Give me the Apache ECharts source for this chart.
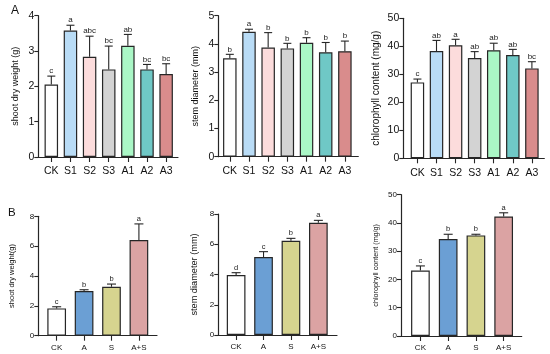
<!DOCTYPE html>
<html><head><meta charset="utf-8">
<script src="https://cdn.jsdelivr.net/npm/echarts@6/dist/echarts.min.js"></script>
<style>html,body{margin:0;padding:0;background:#fff}#c{width:550px;height:354px}</style>
</head><body><div id="c"></div>
<script>
// ---- data ----
const catsA = ['CK','S1','S2','S3','A1','A2','A3'];
const catsB = ['CK','A','S','A+S'];

const shootA      = [2.05, 3.58, 2.84, 2.48, 3.15, 2.48, 2.35];
const shootA_sd   = [0.24, 0.15, 0.58, 0.66, 0.32, 0.14, 0.29];
const shootA_sig  = ['c','a','abc','bc','ab','bc','bc'];

const stemA       = [3.49, 4.43, 3.87, 3.84, 4.04, 3.70, 3.74];
const stemA_sd    = [0.14, 0.09, 0.53, 0.18, 0.18, 0.35, 0.36];
const stemA_sig   = ['b','a','b','b','b','b','b'];

const chlA        = [27.1, 38.3, 40.4, 35.8, 38.6, 36.9, 32.1];
const chlA_sd     = [1.2, 3.8, 2.1, 2.3, 2.5, 2.0, 2.4];
const chlA_sig    = ['c','ab','a','ab','ab','ab','bc'];

const shootB      = [1.83, 2.99, 3.28, 6.41];
const shootB_sd   = [0.11, 0.09, 0.18, 1.08];
const shootB_sig  = ['c','b','b','a'];

const stemB       = [3.96, 5.15, 6.23, 7.42];
const stemB_sd    = [0.16, 0.36, 0.16, 0.16];
const stemB_sig   = ['d','c','b','a'];

const chlB        = [23.2, 34.3, 35.6, 42.3];
const chlB_sd     = [1.6, 1.7, 0.4, 1.3];
const chlB_sig    = ['c','b','b','a'];

// ---- styles ----
const colorsA = ['#ffffff','#b9dcf6','#fcdcdc','#d3d3d3','#aaf7c6','#6fc8c6','#d98c8c'];
const colorsB = ['#ffffff','#6b9fd4','#d6d48f','#dba3a3'];
const FONT = 'Liberation Sans, Arial, sans-serif';
const INK = '#262626';

const panels = [
  {cats:catsA, vals:shootA, sd:shootA_sd, sig:shootA_sig, colors:colorsA, ymax:4, step:1, name:'shoot dry weight (g)',
   left:38.3, top:15.7, width:139.7, height:141.3, xmin:-0.68, xmax:6.62, bw:13.5, fs:10.5, nfs:9, lfs:8, gap:18, cap:4, tl:5, lm:9},
  {cats:catsA, vals:stemA, sd:stemA_sd, sig:stemA_sig, colors:colorsA, ymax:5, step:1, name:'stem diameter (mm)',
   left:218.3, top:15.7, width:140, height:141, xmin:-0.6, xmax:6.7, bw:13.5, fs:10.5, nfs:9, lfs:8, gap:18, cap:4, tl:5, lm:9},
  {cats:catsA, vals:chlA, sd:chlA_sd, sig:chlA_sig, colors:colorsA, ymax:50, step:10, name:'chlorophyll content (mg/g)',
   left:403.3, top:18.3, width:141, height:140, xmin:-0.74, xmax:6.65, bw:13.5, fs:10.5, nfs:10, lfs:8, gap:22, cap:4, tl:5, lm:9},
  {cats:catsB, vals:shootB, sd:shootB_sd, sig:shootB_sig, colors:colorsB, ymax:8, step:2, name:'shoot dry weight(g)',
   left:38.3, top:216.3, width:118.7, height:119.4, xmin:-0.67, xmax:3.66, bw:18.7, fs:8, nfs:7.5, lfs:7.5, gap:22, cap:4.5, tl:5, lm:8},
  {cats:catsB, vals:stemB, sd:stemB_sd, sig:stemB_sig, colors:colorsB, ymax:8, step:2, name:'stem diameter (mm)',
   left:218.3, top:214, width:118.7, height:121, xmin:-0.65, xmax:3.68, bw:18.7, fs:8, nfs:9.2, lfs:7.5, gap:19, cap:4.5, tl:5, lm:8},
  {cats:catsB, vals:chlB, sd:chlB_sd, sig:chlB_sig, colors:colorsB, ymax:50, step:10, name:'chlorophyll content (mg/g)',
   left:401, top:194.7, width:120.7, height:141.3, xmin:-0.70, xmax:3.65, bw:18.7, fs:8, nfs:7.2, lfs:7.5, gap:21, cap:4.5, tl:5, lm:8}
];

const grid = [], xAxis = [], yAxis = [], series = [];
panels.forEach((p, k) => {
  const idx = p.cats.map((_, i) => i);
  grid.push({left:p.left, top:p.top, width:p.width, height:p.height, containLabel:false});
  xAxis.push({
    type:'value', gridIndex:k, min:p.xmin, max:p.xmax,
    axisLine:{show:true, onZero:false, lineStyle:{color:INK, width:1.2}},
    axisTick:{show:true, customValues:idx, length:p.tl, inside:false, lineStyle:{color:INK, width:1.1}},
    axisLabel:{show:true, customValues:idx, formatter:(v)=>p.cats[Math.round(v)], fontSize:p.fs, fontFamily:FONT, color:'#111', margin:p.lm},
    splitLine:{show:false}
  });
  yAxis.push({
    type:'value', gridIndex:k, min:0, max:p.ymax, interval:p.step,
    axisLine:{show:true, onZero:false, lineStyle:{color:INK, width:1.2}},
    axisTick:{show:true, length:4, lineStyle:{color:INK, width:1.1}},
    axisLabel:{fontSize:p.fs, fontFamily:FONT, color:'#111', margin:4},
    splitLine:{show:false},
    name:p.name, nameLocation:'middle', nameGap:p.gap,
    nameTextStyle:{fontSize:p.nfs, fontFamily:FONT, color:'#111'}
  });
  series.push({
    type:'bar', xAxisIndex:k, yAxisIndex:k, barWidth:p.bw,
    data:p.vals.map((v,i)=>({value:[i,v], itemStyle:{color:p.colors[i]}})),
    itemStyle:{borderColor:INK, borderWidth:1.2},
    silent:true, animation:false, z:2
  });
  series.push({
    type:'custom', xAxisIndex:k, yAxisIndex:k, animation:false, silent:true, z:3,
    data:p.vals.map((v,i)=>[i, v, v + p.sd[i]]),
    renderItem:(params, api) => {
      const x = api.value(0);
      const a = api.coord([x, api.value(1)]);
      const b = api.coord([x, api.value(2)]);
      const st = {stroke:INK, lineWidth:1.1};
      return {type:'group', children:[
        {type:'line', shape:{x1:a[0], y1:a[1], x2:b[0], y2:b[1]}, style:st},
        {type:'line', shape:{x1:b[0]-p.cap, y1:b[1], x2:b[0]+p.cap, y2:b[1]}, style:st},
        {type:'text', style:{text:p.sig[params.dataIndex], x:b[0], y:b[1]-1,
          textAlign:'center', textVerticalAlign:'bottom', align:'center', verticalAlign:'bottom',
          font:p.lfs + 'px ' + FONT, fill:'#222'}}
      ]};
    }
  });
});

const chart = echarts.init(document.getElementById('c'), null, {renderer:'canvas'});
chart.setOption({
  backgroundColor:'#ffffff',
  animation:false,
  title:[
    {text:'A', left:6, top:0, textStyle:{fontSize:12, fontWeight:'normal', fontFamily:FONT, color:'#111'}},
    {text:'B', left:3, top:202, textStyle:{fontSize:11.5, fontWeight:'normal', fontFamily:FONT, color:'#111'}}
  ],
  grid, xAxis, yAxis, series
});
</script></body></html>
